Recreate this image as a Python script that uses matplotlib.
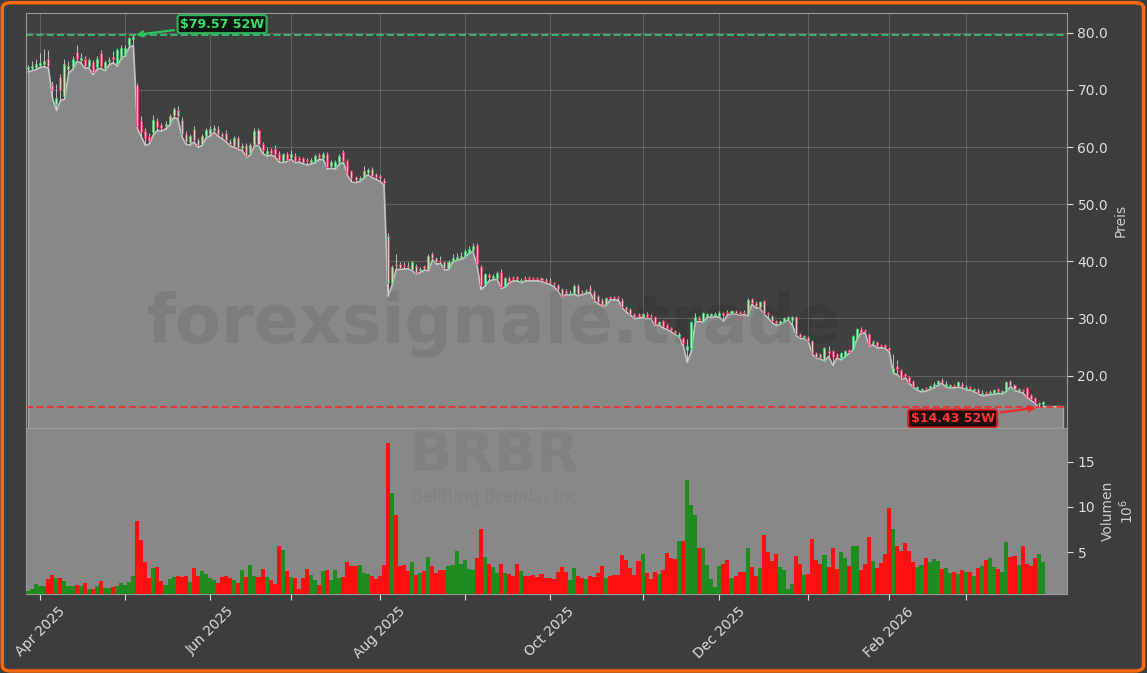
import numpy as np
import pandas as pd
import matplotlib
matplotlib.use("Agg")
import matplotlib.pyplot as plt
from matplotlib.patches import FancyBboxPatch
from matplotlib.ticker import FormatStrFormatter

# trading days, Mar 27 2025 - Mar 27 2026
holidays = ["2025-04-18", "2025-05-26", "2025-06-19", "2025-07-04", "2025-09-01",
            "2025-11-27", "2025-12-25", "2026-01-01", "2026-01-19", "2026-02-16"]
dates = pd.bdate_range("2025-03-27", "2026-03-27", freq="C", holidays=holidays)

opens = [
    73.6, 73.8, 74.0, 74.4, 74.6, 75.5, 70.8, 67.5, 72.3, 69.0,
    73.6, 74.0, 76.7, 75.3, 75.5, 74.2, 74.9, 74.0, 76.5, 73.8,
    75.0, 75.8, 74.5, 75.8, 76.3, 77.8, 78.9, 70.8, 64.6, 62.8,
    62.0, 62.6, 64.6, 63.8, 63.6, 64.2, 65.6, 66.5, 64.8, 62.3,
    60.8, 63.2, 61.2, 60.6, 61.9, 62.3, 63.0, 63.2, 62.3, 62.5,
    61.0, 60.3, 61.5, 59.8, 60.3, 59.0, 60.6, 62.9, 60.5, 58.8,
    59.4, 59.6, 58.8, 57.6, 58.7, 58.2, 58.5, 58.0, 58.0, 57.8,
    57.4, 57.6, 58.6, 58.1, 58.8, 56.6, 56.5, 57.4, 59.1, 57.6,
    55.8, 54.8, 54.2, 54.8, 55.6, 56.2, 55.2, 54.9, 54.2, 44.5,
    36.2, 39.6, 39.6, 39.3, 39.2, 38.6, 39.2, 38.4, 39.1, 38.6,
    41.3, 40.5, 40.2, 39.8, 38.8, 40.1, 40.4, 40.7, 41.0, 41.7,
    42.0, 42.8, 39.0, 36.0, 37.6, 37.0, 37.1, 38.2, 35.7, 37.1,
    37.1, 37.2, 36.5, 37.1, 37.1, 37.1, 37.1, 37.0, 36.8, 36.6,
    36.2, 35.9, 35.2, 34.8, 34.3, 34.5, 35.7, 34.7, 34.6, 35.3,
    34.6, 33.9, 33.3, 32.6, 33.8, 33.8, 33.8, 33.3, 32.0, 31.7,
    30.8, 30.8, 30.4, 30.8, 30.5, 30.2, 29.0, 29.5, 28.8, 28.3,
    27.8, 26.9, 26.6, 24.5, 24.8, 29.6, 30.1, 29.6, 30.5, 30.4,
    30.6, 30.4, 31.0, 31.2, 31.0, 31.3, 31.1, 31.2, 30.7, 33.4,
    32.7, 32.0, 33.0, 31.0, 30.4, 29.5, 29.2, 29.6, 29.9, 29.8,
    30.2, 27.3, 26.7, 26.7, 26.1, 23.9, 23.8, 22.8, 24.3, 24.3,
    23.7, 23.0, 23.5, 24.4, 24.7, 26.6, 28.2, 27.9, 27.3, 25.7,
    25.9, 25.4, 25.4, 24.8, 20.6, 21.6, 21.0, 20.2, 19.8, 19.1,
    17.6, 17.4, 17.8, 17.8, 18.1, 18.5, 19.2, 18.2, 18.0, 18.4,
    18.2, 18.6, 17.7, 17.9, 17.4, 17.6, 16.7, 17.1, 16.9, 17.0,
    17.6, 17.0, 17.5, 19.0, 18.4, 17.4, 17.5, 17.8, 16.6, 16.1,
    15.0, 15.1]

highs = [
    74.4, 75.0, 75.4, 76.4, 77.2, 77.0, 71.6, 71.0, 72.8, 75.4,
    75.0, 76.0, 77.8, 76.4, 76.0, 75.6, 75.3, 75.9, 77.0, 75.3,
    75.8, 76.8, 77.3, 77.8, 77.9, 79.3, 79.57, 71.2, 65.4, 63.4,
    62.5, 65.6, 65.0, 64.2, 64.6, 65.8, 67.0, 67.1, 65.2, 62.8,
    62.3, 63.6, 61.6, 62.2, 63.3, 63.6, 63.8, 63.6, 62.6, 62.9,
    61.4, 61.9, 61.9, 60.7, 60.7, 60.7, 63.3, 63.3, 60.8, 60.0,
    59.8, 60.3, 59.3, 59.0, 59.1, 59.5, 58.9, 58.4, 58.3, 58.1,
    58.1, 58.8, 58.9, 59.1, 59.1, 57.7, 57.7, 58.7, 59.5, 57.9,
    56.0, 55.0, 55.0, 56.6, 56.3, 56.5, 55.4, 55.2, 54.5, 45.0,
    39.4, 41.2, 39.9, 39.8, 39.8, 40.1, 39.5, 39.0, 39.4, 41.2,
    41.7, 40.8, 40.9, 40.1, 40.2, 41.2, 41.4, 41.6, 42.2, 42.6,
    43.2, 43.2, 39.3, 38.0, 37.9, 37.8, 38.3, 38.6, 37.3, 37.4,
    37.4, 37.5, 37.0, 37.4, 37.4, 37.3, 37.3, 37.3, 37.1, 37.0,
    36.4, 36.1, 35.4, 35.1, 34.9, 36.0, 36.0, 35.0, 35.2, 35.8,
    34.9, 34.1, 33.5, 33.8, 34.0, 34.0, 34.0, 33.6, 32.2, 31.9,
    31.0, 31.0, 31.0, 31.1, 30.7, 30.4, 29.6, 29.7, 29.0, 28.5,
    28.0, 27.6, 26.8, 26.4, 29.6, 31.0, 30.4, 31.1, 31.0, 31.0,
    31.1, 31.3, 31.2, 31.4, 31.5, 31.5, 31.3, 31.4, 33.5, 33.6,
    33.0, 33.1, 33.2, 31.2, 30.6, 29.8, 29.8, 30.3, 30.5, 30.4,
    30.4, 27.5, 27.1, 26.9, 26.3, 24.1, 24.0, 25.0, 25.2, 24.5,
    23.9, 24.1, 24.5, 24.6, 27.1, 28.4, 28.5, 28.1, 27.5, 26.2,
    26.1, 25.6, 25.5, 25.0, 23.8, 22.8, 21.2, 20.4, 20.0, 19.3,
    18.2, 17.8, 18.0, 18.4, 18.8, 19.3, 19.5, 19.0, 18.6, 18.6,
    19.0, 18.8, 18.4, 18.1, 17.9, 17.8, 17.5, 17.3, 17.5, 17.7,
    17.9, 17.5, 19.0, 19.2, 18.6, 17.9, 17.7, 18.0, 16.8, 16.3,
    15.4, 15.6]

lows = [
    73.2, 73.4, 73.6, 74.0, 74.1, 73.8, 68.5, 66.4, 68.2, 68.4,
    73.0, 73.6, 75.0, 74.8, 73.8, 73.9, 72.7, 73.6, 73.8, 73.4,
    74.4, 74.8, 74.2, 75.5, 76.0, 77.5, 77.8, 63.2, 61.8, 60.3,
    60.6, 62.2, 63.0, 62.8, 63.2, 63.9, 65.2, 65.0, 61.9, 60.5,
    60.4, 60.9, 60.0, 60.3, 61.6, 62.0, 62.6, 61.9, 61.5, 60.9,
    60.2, 60.0, 59.6, 59.4, 58.2, 58.7, 60.3, 60.3, 58.9, 58.5,
    58.6, 58.4, 57.4, 57.3, 57.5, 57.9, 57.3, 57.4, 57.1, 56.9,
    57.1, 57.3, 57.9, 57.8, 56.2, 56.3, 56.2, 57.1, 57.3, 55.0,
    53.9, 53.8, 54.0, 54.6, 55.2, 54.7, 54.4, 54.0, 53.4, 33.9,
    35.8, 38.6, 38.6, 38.7, 38.7, 38.4, 37.8, 38.1, 38.5, 38.4,
    40.3, 39.5, 39.7, 38.5, 38.6, 39.9, 40.2, 40.4, 40.7, 41.4,
    41.8, 39.3, 35.1, 35.7, 36.6, 36.8, 36.9, 35.3, 35.5, 36.3,
    36.6, 36.6, 36.3, 36.6, 36.6, 36.6, 36.6, 36.5, 36.2, 36.0,
    35.6, 34.9, 33.8, 34.2, 34.1, 34.3, 34.0, 34.2, 34.4, 34.6,
    33.1, 32.6, 32.2, 32.4, 33.3, 33.3, 33.2, 31.8, 31.1, 30.6,
    30.0, 30.1, 30.2, 30.0, 30.0, 28.8, 28.9, 28.4, 28.1, 27.7,
    27.2, 26.8, 25.3, 22.4, 24.2, 29.4, 29.5, 29.4, 30.3, 30.2,
    30.4, 30.2, 29.5, 30.7, 30.8, 30.8, 30.6, 30.7, 30.5, 32.5,
    31.9, 31.8, 30.8, 30.1, 29.3, 28.8, 29.0, 29.4, 29.8, 28.9,
    27.0, 26.5, 26.5, 25.9, 23.7, 23.1, 22.9, 22.6, 23.4, 21.8,
    23.1, 22.8, 23.3, 23.9, 24.5, 26.4, 27.5, 27.5, 25.2, 25.4,
    24.9, 24.9, 24.8, 24.1, 20.4, 20.2, 19.4, 19.6, 18.6, 18.0,
    17.4, 17.2, 17.3, 17.6, 17.9, 18.3, 18.7, 18.0, 17.9, 17.9,
    18.0, 17.9, 17.5, 17.5, 17.2, 16.8, 16.5, 16.6, 16.7, 16.8,
    16.9, 16.8, 17.3, 18.1, 17.4, 17.2, 17.0, 16.3, 15.7, 15.2,
    14.43, 14.6]

closes = [
    74.0, 74.2, 74.6, 74.8, 75.0, 74.2, 70.0, 68.5, 70.0, 74.6,
    74.2, 75.5, 75.5, 75.6, 74.2, 75.2, 73.2, 75.5, 74.2, 74.9,
    75.3, 75.4, 77.0, 77.3, 77.4, 79.1, 79.2, 63.6, 62.6, 61.6,
    61.0, 64.8, 63.5, 63.4, 64.0, 65.4, 66.6, 65.4, 62.2, 60.9,
    61.9, 61.2, 60.3, 61.9, 63.0, 63.2, 63.3, 62.2, 62.0, 61.2,
    60.6, 61.5, 59.9, 60.1, 58.5, 60.3, 62.8, 60.6, 59.5, 59.3,
    59.0, 58.8, 57.7, 58.7, 57.8, 58.8, 57.6, 57.8, 57.4, 57.5,
    57.7, 58.5, 58.3, 58.8, 56.5, 57.4, 57.4, 58.4, 57.6, 55.6,
    54.6, 54.2, 54.6, 55.8, 56.0, 55.0, 54.8, 54.5, 53.7, 36.2,
    39.0, 39.2, 38.9, 39.1, 39.0, 39.8, 38.0, 38.7, 38.9, 40.9,
    40.6, 39.8, 40.0, 38.8, 39.9, 40.5, 40.7, 40.9, 41.8, 42.1,
    42.7, 39.6, 35.8, 37.7, 37.3, 37.4, 38.0, 35.5, 37.0, 36.5,
    36.9, 36.9, 36.7, 36.9, 36.9, 36.9, 36.9, 36.8, 36.4, 36.4,
    36.0, 35.1, 34.0, 34.5, 34.5, 35.7, 34.2, 34.5, 34.8, 35.0,
    33.3, 32.9, 32.4, 33.5, 33.6, 33.6, 33.5, 32.0, 31.4, 30.8,
    30.2, 30.5, 30.7, 30.2, 30.2, 29.0, 29.3, 28.6, 28.4, 28.0,
    27.4, 27.2, 25.7, 25.2, 29.4, 30.2, 29.8, 30.9, 30.7, 30.8,
    30.8, 31.0, 30.6, 31.0, 31.3, 31.0, 30.8, 31.0, 33.3, 32.7,
    32.1, 32.9, 31.0, 30.8, 29.5, 29.2, 29.5, 30.0, 30.2, 30.2,
    27.3, 26.7, 26.9, 26.1, 23.9, 23.3, 23.1, 24.8, 24.0, 23.2,
    23.5, 23.9, 24.3, 24.2, 26.9, 28.2, 27.7, 27.8, 25.4, 25.9,
    25.1, 25.2, 25.0, 24.5, 21.4, 21.2, 19.6, 20.0, 18.8, 18.2,
    18.0, 17.6, 17.6, 18.1, 18.6, 19.1, 18.9, 18.6, 18.3, 18.2,
    18.8, 18.1, 18.0, 17.8, 17.6, 16.9, 17.0, 16.9, 17.2, 17.5,
    17.3, 17.3, 18.8, 18.3, 17.6, 17.7, 17.3, 16.5, 15.9, 15.4,
    15.2, 15.4]

# volume in millions
volumes = [
    0.75, 0.9, 1.5, 1.25, 1.25, 2.0, 2.5, 2.1, 2.1, 1.8,
    1.25, 1.25, 1.4, 1.25, 1.6, 0.9, 0.9, 1.25, 1.8, 1.0,
    1.0, 1.2, 1.25, 1.6, 1.4, 1.7, 2.4, 8.4, 6.3, 3.9,
    2.1, 3.2, 3.35, 1.8, 1.4, 2.0, 2.25, 2.4, 2.3, 2.4,
    1.7, 3.2, 2.4, 2.9, 2.6, 2.1, 1.9, 1.6, 2.25, 2.4,
    2.1, 1.9, 1.6, 3.0, 2.25, 3.6, 2.4, 2.25, 3.1, 2.25,
    1.9, 1.5, 5.65, 5.2, 2.9, 2.25, 2.1, 0.9, 2.1, 3.1,
    2.5, 1.9, 1.4, 2.9, 3.0, 1.9, 3.0, 2.1, 2.25, 3.9,
    3.5, 3.5, 3.6, 2.7, 2.6, 2.4, 2.0, 2.4, 3.6, 17.0,
    11.5, 9.1, 3.45, 3.6, 2.9, 3.9, 2.5, 2.7, 2.9, 4.45,
    3.45, 2.7, 3.0, 3.0, 3.45, 3.6, 5.1, 3.7, 4.1, 3.1,
    3.0, 4.4, 7.6, 4.45, 3.7, 3.35, 2.7, 3.7, 2.7, 2.6,
    2.4, 3.7, 2.9, 2.4, 2.4, 2.5, 2.25, 2.6, 2.1, 2.1,
    2.0, 2.8, 3.35, 2.8, 1.9, 3.2, 2.4, 2.1, 2.0, 2.4,
    2.25, 2.7, 3.45, 2.1, 2.4, 2.5, 2.5, 4.7, 4.1, 3.2,
    2.5, 4.0, 4.8, 2.7, 2.0, 2.8, 2.6, 3.0, 4.9, 4.3,
    4.2, 6.2, 6.2, 13.0, 10.2, 9.1, 5.4, 5.5, 3.6, 2.0,
    1.15, 3.45, 3.7, 4.1, 2.1, 2.4, 2.8, 2.8, 5.5, 3.35,
    2.4, 3.2, 6.85, 5.0, 4.0, 4.8, 3.35, 3.0, 0.9, 1.5,
    4.55, 3.7, 2.5, 2.6, 6.5, 4.1, 3.7, 4.65, 3.35, 5.4,
    3.1, 5.0, 4.3, 3.45, 5.65, 5.65, 3.0, 3.7, 6.65, 4.0,
    3.2, 3.8, 4.8, 9.9, 7.6, 5.65, 5.1, 6.0, 5.1, 3.9,
    3.35, 3.6, 4.3, 3.9, 4.2, 4.0, 3.1, 3.2, 2.7, 2.8,
    2.6, 3.0, 2.8, 2.8, 2.4, 3.2, 3.45, 4.1, 4.3, 3.35,
    3.1, 2.8, 6.1, 4.45, 4.55, 3.6, 5.65, 3.7, 3.45, 4.3,
    4.8, 3.9]

ticker = "BRBR"
company = "BellRing Brands, Inc"
watermark = "forexsignale.trade"

o = np.array(opens)
h = np.array(highs)
l = np.array(lows)
c = np.array(closes)
v = np.array(volumes)
x = np.arange(len(dates))
up = c >= o

hi52 = h.max()
lo52 = l.min()
i_hi = int(h.argmax())
i_lo = int(l.argmin())

bg = "#3d3d3d"
fig = plt.figure(figsize=(11.47, 6.73), dpi=100, facecolor=bg)
ax = fig.add_axes([0.0227, 0.3640, 0.9076, 0.6174], facecolor="#404040")
axv = fig.add_axes([0.0227, 0.1174, 0.9076, 0.2466], facecolor="#888888", sharex=ax)

ymin = lo52 * 0.75
ymax = hi52 * 1.05

# area under the lows, carried a few days past the last bar
xf = np.append(x, x[-1] + 5)
lf = np.append(l, l[-1])
ax.fill_between(xf, lf, ymin, facecolor="#888888", edgecolor="#a8a8a8", lw=1.0, zorder=1)
ax.plot(xf, lf, color="#c4c4c4", lw=0.9, zorder=2)

ax.text(0.45, 0.25, watermark, transform=ax.transAxes, fontsize=48, fontweight="bold",
        color="black", alpha=0.08, ha="center", va="center", zorder=2)

# candles
ax.vlines(x, l, h, color="#d4d4d4", lw=0.7, alpha=0.85, zorder=3)
bottom = np.minimum(o, c)
height = np.maximum(np.abs(c - o), 0.12)
ax.bar(x[up], height[up], bottom=bottom[up], width=0.5, color="#c4e8c4",
       edgecolor="#3fd46a", lw=0.6, alpha=0.85, zorder=4)
ax.bar(x[~up], height[~up], bottom=bottom[~up], width=0.5, color="#f2c8d2",
       edgecolor="#f0305f", lw=0.6, alpha=0.85, zorder=4)

ax.axhline(hi52, color="#3cb371", ls="--", lw=1.4, zorder=2.5)
ax.axhline(lo52, color="#e53935", ls="--", lw=1.4, zorder=2.5)

ax.annotate(f"${hi52:.2f} 52W", xy=(i_hi, hi52), xytext=(64, 8), textcoords="offset points",
            ha="center", va="center", fontsize=9, fontweight="bold", color="#3fdc70",
            bbox=dict(boxstyle="round,pad=0.2", fc="#0b160e", ec="#2fb457", lw=1.5),
            arrowprops=dict(arrowstyle="->", color="#2fc25e", lw=1.6), zorder=6)
ax.annotate(f"${lo52:.2f} 52W", xy=(i_lo, lo52), xytext=(-62, -8), textcoords="offset points",
            ha="center", va="center", fontsize=9, fontweight="bold", color="#ff3434",
            bbox=dict(boxstyle="round,pad=0.2", fc="#1c0e0e", ec="#e02020", lw=1.5),
            arrowprops=dict(arrowstyle="->", color="#f02a2a", lw=1.6), zorder=6)

ax.set_xlim(-0.5, len(x) + 5)
ax.set_ylim(ymin, ymax)
ax.yaxis.tick_right()
ax.yaxis.set_label_position("right")
ax.set_yticks([20, 30, 40, 50, 60, 70, 80])
ax.yaxis.set_major_formatter(FormatStrFormatter("%.1f"))
ax.set_ylabel("Preis", color="#cccccc", fontsize=10)
ax.grid(True, color="white", alpha=0.17, lw=0.8)
ax.set_axisbelow(True)
ax.tick_params(axis="x", length=0, labelbottom=False)
ax.tick_params(axis="y", colors="#dddddd", labelsize=10, length=4)

# volume
vol_colors = np.where(up, "#1e8c1e", "#ff1010")
axv.bar(x, v, width=1.0, color=vol_colors, zorder=3)
axv.text(0.45, 0.83, ticker, transform=axv.transAxes, fontsize=40, fontweight="bold",
         color="black", alpha=0.05, ha="center", va="center", zorder=1)
axv.text(0.45, 0.585, company, transform=axv.transAxes, fontsize=12,
         color="black", alpha=0.05, ha="center", va="center", zorder=1)
axv.set_ylim(v.min() * 0.5, v.max() * 1.1)
axv.yaxis.tick_right()
axv.yaxis.set_label_position("right")
axv.set_yticks([5, 10, 15])
axv.set_ylabel("Volumen\n$10^{6}$", color="#cccccc", fontsize=10)
axv.tick_params(axis="y", colors="#dddddd", labelsize=10, length=4)

month_idx = [i for i in range(1, len(dates)) if dates[i].month != dates[i - 1].month]
month_lbl = [dates[i].strftime("%b %Y") if dates[i].month % 2 == 0 else "" for i in month_idx]
axv.set_xticks(month_idx)
axv.set_xticklabels(month_lbl, rotation=45)
axv.tick_params(axis="x", colors="#dddddd", labelsize=10, length=4)

for a in (ax, axv):
    for s in a.spines.values():
        s.set_color("#9a9a9a")

fig.patches.append(FancyBboxPatch((0.002, 0.003), 0.995, 0.993, transform=fig.transFigure,
                                  boxstyle="round,pad=0,rounding_size=0.008",
                                  fill=False, edgecolor="#ff6a10", lw=2.5))

fig.savefig("out.png", dpi=100, facecolor=bg)
